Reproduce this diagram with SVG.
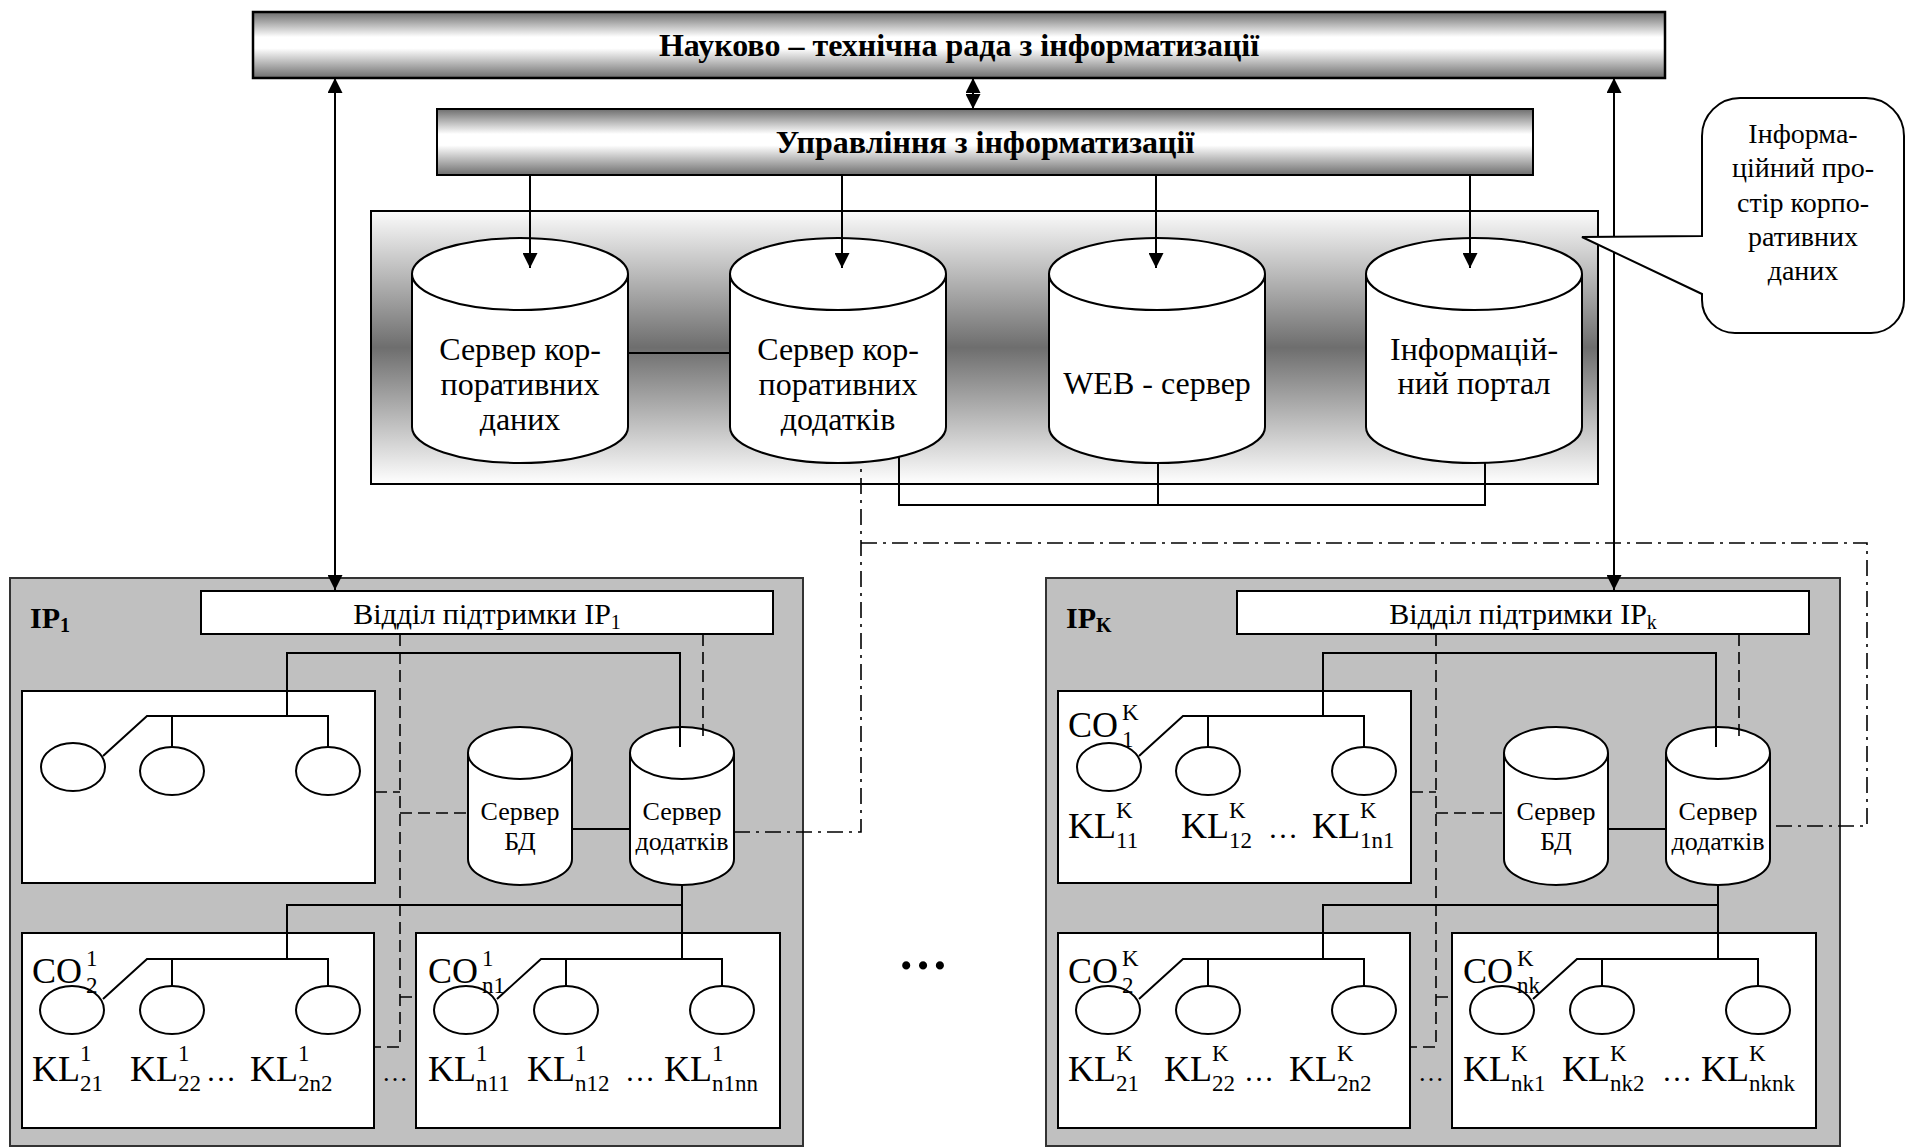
<svg xmlns="http://www.w3.org/2000/svg" width="1907" height="1148" viewBox="0 0 1907 1148">
<style>
.t{font-family:"Liberation Serif","Times New Roman",serif;fill:#000}
.b{font-weight:bold}
.ln{stroke:#000;stroke-width:2;fill:none}
.dash{stroke:#000;stroke-width:1.6;fill:none;stroke-dasharray:12 6}
.dd{stroke:#000;stroke-width:1.6;fill:none;stroke-dasharray:16 6 3 6}
.w{fill:#fff;stroke:#000;stroke-width:2}
.ip{fill:#c0c0c0;stroke:#333;stroke-width:2}
.kl{font-size:36px}
.s{font-size:23px}
.cy{font-size:32px;text-anchor:middle}
.sm{font-size:26px;text-anchor:middle}
.co{font-size:28px;text-anchor:middle}
</style>
<defs>
<linearGradient id="band" x1="0" y1="0" x2="0" y2="1">
<stop offset="0" stop-color="#6e6e6e"/>
<stop offset="0.38" stop-color="#ffffff"/>
<stop offset="0.55" stop-color="#ffffff"/>
<stop offset="1" stop-color="#6e6e6e"/>
</linearGradient>
<linearGradient id="cont" x1="0" y1="0" x2="0" y2="1">
<stop offset="0" stop-color="#fbfbfb"/>
<stop offset="0.5" stop-color="#6e6e6e"/>
<stop offset="1" stop-color="#ffffff"/>
</linearGradient>
<marker id="ah" markerUnits="userSpaceOnUse" markerWidth="15" markerHeight="15" viewBox="0 0 15 15" refX="15" refY="7.5" orient="auto-start-reverse">
<path d="M0,0 L15,7.5 L0,15 z" fill="#000"/>
</marker>
</defs>
<rect width="1907" height="1148" fill="#fff"/>

<g id="rada">
<rect x="253" y="12" width="1412" height="66" fill="url(#band)" stroke="#000" stroke-width="2.5"/>
<text class="t b" x="959" y="56" font-size="32" text-anchor="middle">Науково – технічна рада з інформатизації</text>
</g>
<g id="upravlinnia">
<rect x="437" y="109" width="1096" height="66" fill="url(#band)" stroke="#000" stroke-width="2"/>
<text class="t b" x="985" y="153" font-size="32" text-anchor="middle">Управління з інформатизації</text>
</g>
<g id="prostir">
<rect x="371" y="211" width="1227" height="273" fill="url(#cont)" stroke="#000" stroke-width="2"/>
</g>
<g id="cyl-dani">
<path class="w" d="M412,274 V427 A108,36 0 0 0 628,427 V274"/>
<ellipse class="w" cx="520" cy="274" rx="108" ry="36"/>
<text class="t cy" x="520" y="360">Сервер кор-</text>
<text class="t cy" x="520" y="395">поративних</text>
<text class="t cy" x="520" y="430">даних</text>
</g>
<g id="cyl-dodatky">
<path class="w" d="M730,274 V427 A108,36 0 0 0 946,427 V274"/>
<ellipse class="w" cx="838" cy="274" rx="108" ry="36"/>
<text class="t cy" x="838" y="360">Сервер кор-</text>
<text class="t cy" x="838" y="395">поративних</text>
<text class="t cy" x="838" y="430">додатків</text>
</g>
<g id="cyl-web">
<path class="w" d="M1049,274 V427 A108,36 0 0 0 1265,427 V274"/>
<ellipse class="w" cx="1157" cy="274" rx="108" ry="36"/>
<text class="t cy" x="1157" y="394">WEB - сервер</text>
</g>
<g id="cyl-portal">
<path class="w" d="M1366,274 V427 A108,36 0 0 0 1582,427 V274"/>
<ellipse class="w" cx="1474" cy="274" rx="108" ry="36"/>
<text class="t cy" x="1474" y="360">Інформацій-</text>
<text class="t cy" x="1474" y="394">ний портал</text>
</g>

<g id="ip1">
<rect class="ip" x="10" y="578" width="793" height="568"/>
<text class="t b" x="30" y="628" font-size="30">IP<tspan font-size="20" dy="4">1</tspan></text>
<rect class="w" x="201" y="591" width="572" height="43"/>
<text class="t" x="487" y="624" font-size="30" text-anchor="middle">Відділ підтримки IP<tspan font-size="20" dy="5">1</tspan></text>
<rect class="w" x="22" y="691" width="353" height="192"/>
<rect class="w" x="22" y="933" width="352" height="195"/>
<rect class="w" x="416" y="933" width="364" height="195"/>
<ellipse class="w" cx="73" cy="767" rx="32" ry="24"/>
<ellipse class="w" cx="172" cy="771" rx="32" ry="24"/>
<ellipse class="w" cx="328" cy="771" rx="32" ry="24"/>
<ellipse class="w" cx="72" cy="1010" rx="32" ry="24"/>
<ellipse class="w" cx="172" cy="1010" rx="32" ry="24"/>
<ellipse class="w" cx="328" cy="1010" rx="32" ry="24"/>
<ellipse class="w" cx="466" cy="1010" rx="32" ry="24"/>
<ellipse class="w" cx="566" cy="1010" rx="32" ry="24"/>
<ellipse class="w" cx="722" cy="1010" rx="32" ry="24"/>
<path class="w" d="M468,753 V859 A52,26 0 0 0 572,859 V753"/>
<ellipse class="w" cx="520" cy="753" rx="52" ry="26"/>
<text class="t sm" x="520" y="820">Сервер</text>
<text class="t sm" x="520" y="850">БД</text>
<path class="w" d="M630,753 V859 A52,26 0 0 0 734,859 V753"/>
<ellipse class="w" cx="682" cy="753" rx="52" ry="26"/>
<text class="t sm" x="682" y="820">Сервер</text>
<text class="t sm" x="682" y="850">додатків</text>
<text class="t kl" x="32" y="983">CO<tspan class="s" x="86" y="966">1</tspan><tspan class="s" x="86" y="993">2</tspan></text>
<text class="t kl" x="32" y="1081">KL<tspan class="s" x="80" y="1061">1</tspan><tspan class="s" x="80" y="1091">21</tspan></text>
<text class="t kl" x="130" y="1081">KL<tspan class="s" x="178" y="1061">1</tspan><tspan class="s" x="178" y="1091">22</tspan></text>
<text class="t" x="206" y="1081" font-size="30">…</text>
<text class="t kl" x="250" y="1081">KL<tspan class="s" x="298" y="1061">1</tspan><tspan class="s" x="298" y="1091">2n2</tspan></text>
<text class="t" x="382" y="1081" font-size="26">…</text>
<text class="t kl" x="428" y="983">CO<tspan class="s" x="482" y="966">1</tspan><tspan class="s" x="482" y="993">n1</tspan></text>
<text class="t kl" x="428" y="1081">KL<tspan class="s" x="476" y="1061">1</tspan><tspan class="s" x="476" y="1091">n11</tspan></text>
<text class="t kl" x="527" y="1081">KL<tspan class="s" x="575" y="1061">1</tspan><tspan class="s" x="575" y="1091">n12</tspan></text>
<text class="t" x="625" y="1081" font-size="30">…</text>
<text class="t kl" x="664" y="1081">KL<tspan class="s" x="712" y="1061">1</tspan><tspan class="s" x="712" y="1091">n1nn</tspan></text>
</g>

<g id="ipk">
<rect class="ip" x="1046" y="578" width="794" height="568"/>
<text class="t b" x="1066" y="628" font-size="30">IP<tspan font-size="20" dy="4">K</tspan></text>
<rect class="w" x="1237" y="591" width="572" height="43"/>
<text class="t" x="1523" y="624" font-size="30" text-anchor="middle">Відділ підтримки IP<tspan font-size="20" dy="5">k</tspan></text>
<rect class="w" x="1058" y="691" width="353" height="192"/>
<rect class="w" x="1058" y="933" width="352" height="195"/>
<rect class="w" x="1452" y="933" width="364" height="195"/>
<ellipse class="w" cx="1109" cy="767" rx="32" ry="24"/>
<ellipse class="w" cx="1208" cy="771" rx="32" ry="24"/>
<ellipse class="w" cx="1364" cy="771" rx="32" ry="24"/>
<ellipse class="w" cx="1108" cy="1010" rx="32" ry="24"/>
<ellipse class="w" cx="1208" cy="1010" rx="32" ry="24"/>
<ellipse class="w" cx="1364" cy="1010" rx="32" ry="24"/>
<ellipse class="w" cx="1502" cy="1010" rx="32" ry="24"/>
<ellipse class="w" cx="1602" cy="1010" rx="32" ry="24"/>
<ellipse class="w" cx="1758" cy="1010" rx="32" ry="24"/>
<path class="w" d="M1504,753 V859 A52,26 0 0 0 1608,859 V753"/>
<ellipse class="w" cx="1556" cy="753" rx="52" ry="26"/>
<text class="t sm" x="1556" y="820">Сервер</text>
<text class="t sm" x="1556" y="850">БД</text>
<path class="w" d="M1666,753 V859 A52,26 0 0 0 1770,859 V753"/>
<ellipse class="w" cx="1718" cy="753" rx="52" ry="26"/>
<text class="t sm" x="1718" y="820">Сервер</text>
<text class="t sm" x="1718" y="850">додатків</text>
<text class="t kl" x="1068" y="737">CO<tspan class="s" x="1122" y="720">K</tspan><tspan class="s" x="1122" y="747">1</tspan></text>
<text class="t kl" x="1068" y="838">KL<tspan class="s" x="1116" y="818">K</tspan><tspan class="s" x="1116" y="848">11</tspan></text>
<text class="t kl" x="1181" y="838">KL<tspan class="s" x="1229" y="818">K</tspan><tspan class="s" x="1229" y="848">12</tspan></text>
<text class="t" x="1268" y="838" font-size="30">…</text>
<text class="t kl" x="1312" y="838">KL<tspan class="s" x="1360" y="818">K</tspan><tspan class="s" x="1360" y="848">1n1</tspan></text>
<text class="t kl" x="1068" y="983">CO<tspan class="s" x="1122" y="966">K</tspan><tspan class="s" x="1122" y="993">2</tspan></text>
<text class="t kl" x="1068" y="1081">KL<tspan class="s" x="1116" y="1061">K</tspan><tspan class="s" x="1116" y="1091">21</tspan></text>
<text class="t kl" x="1164" y="1081">KL<tspan class="s" x="1212" y="1061">K</tspan><tspan class="s" x="1212" y="1091">22</tspan></text>
<text class="t" x="1244" y="1081" font-size="30">…</text>
<text class="t kl" x="1289" y="1081">KL<tspan class="s" x="1337" y="1061">K</tspan><tspan class="s" x="1337" y="1091">2n2</tspan></text>
<text class="t" x="1418" y="1081" font-size="26">…</text>
<text class="t kl" x="1463" y="983">CO<tspan class="s" x="1517" y="966">K</tspan><tspan class="s" x="1517" y="993">nk</tspan></text>
<text class="t kl" x="1463" y="1081">KL<tspan class="s" x="1511" y="1061">K</tspan><tspan class="s" x="1511" y="1091">nk1</tspan></text>
<text class="t kl" x="1562" y="1081">KL<tspan class="s" x="1610" y="1061">K</tspan><tspan class="s" x="1610" y="1091">nk2</tspan></text>
<text class="t" x="1662" y="1081" font-size="30">…</text>
<text class="t kl" x="1701" y="1081">KL<tspan class="s" x="1749" y="1061">K</tspan><tspan class="s" x="1749" y="1091">nknk</tspan></text>
</g>

<g id="dots">
<text class="t b" x="923" y="969" font-size="50" text-anchor="middle">…</text>
</g>

<g id="connectors">
<path class="ln" d="M335,590 V78" marker-start="url(#ah)" marker-end="url(#ah)"/>
<path class="ln" d="M1614,590 V78" marker-start="url(#ah)" marker-end="url(#ah)"/>
<path class="ln" d="M973,109 V78" marker-start="url(#ah)" marker-end="url(#ah)"/>
<path class="ln" d="M530,175 V268" marker-end="url(#ah)"/>
<path class="ln" d="M842,175 V268" marker-end="url(#ah)"/>
<path class="ln" d="M1156,175 V268" marker-end="url(#ah)"/>
<path class="ln" d="M1470,175 V268" marker-end="url(#ah)"/>
<path class="ln" d="M628,353 H730"/>
<path class="ln" d="M899,456 V505 H1485 V463 M1158,463 V505"/>
<path class="dd" d="M734,832 H861 V462 M861,543 H1867 V826 H1770"/>
<path class="ln" d="M287,716 V653 H680 V747"/>
<path class="ln" d="M103,756 L147,716 H328 V747 M172,716 V747"/>
<path class="ln" d="M572,829 H630"/>
<path class="ln" d="M682,885 V959 M287,959 V905 H683"/>
<path class="ln" d="M103,999 L147,959 H328 V986 M172,959 V986"/>
<path class="ln" d="M497,999 L541,959 H722 V986 M566,959 V986"/>
<path class="dash" d="M400,634 V1047 H375 M375,792 H400 M400,813 H468 M400,997 H416"/>
<path class="dash" d="M703,634 V737"/>
<path class="ln" d="M1323,716 V653 H1716 V747"/>
<path class="ln" d="M1139,756 L1183,716 H1364 V747 M1208,716 V747"/>
<path class="ln" d="M1608,829 H1666"/>
<path class="ln" d="M1718,885 V959 M1323,959 V905 H1719"/>
<path class="ln" d="M1139,999 L1183,959 H1364 V986 M1208,959 V986"/>
<path class="ln" d="M1533,999 L1577,959 H1758 V986 M1602,959 V986"/>
<path class="dash" d="M1436,634 V1047 H1411 M1411,792 H1436 M1436,813 H1504 M1436,997 H1452"/>
<path class="dash" d="M1739,634 V737"/>
</g>

<g id="callout">
<path d="M1702,236 L1582,237 L1702,294 V300 A33,33 0 0 0 1735,333 H1871 A33,33 0 0 0 1904,300 V136 A38,38 0 0 0 1866,98 H1740 A38,38 0 0 0 1702,136 Z" fill="#fff" stroke="#000" stroke-width="2"/>
<text class="t co" x="1803" y="143">Інформа-</text>
<text class="t co" x="1803" y="177">ційний про-</text>
<text class="t co" x="1803" y="212">стір корпо-</text>
<text class="t co" x="1803" y="246">ративних</text>
<text class="t co" x="1803" y="280">даних</text>
</g>
</svg>
